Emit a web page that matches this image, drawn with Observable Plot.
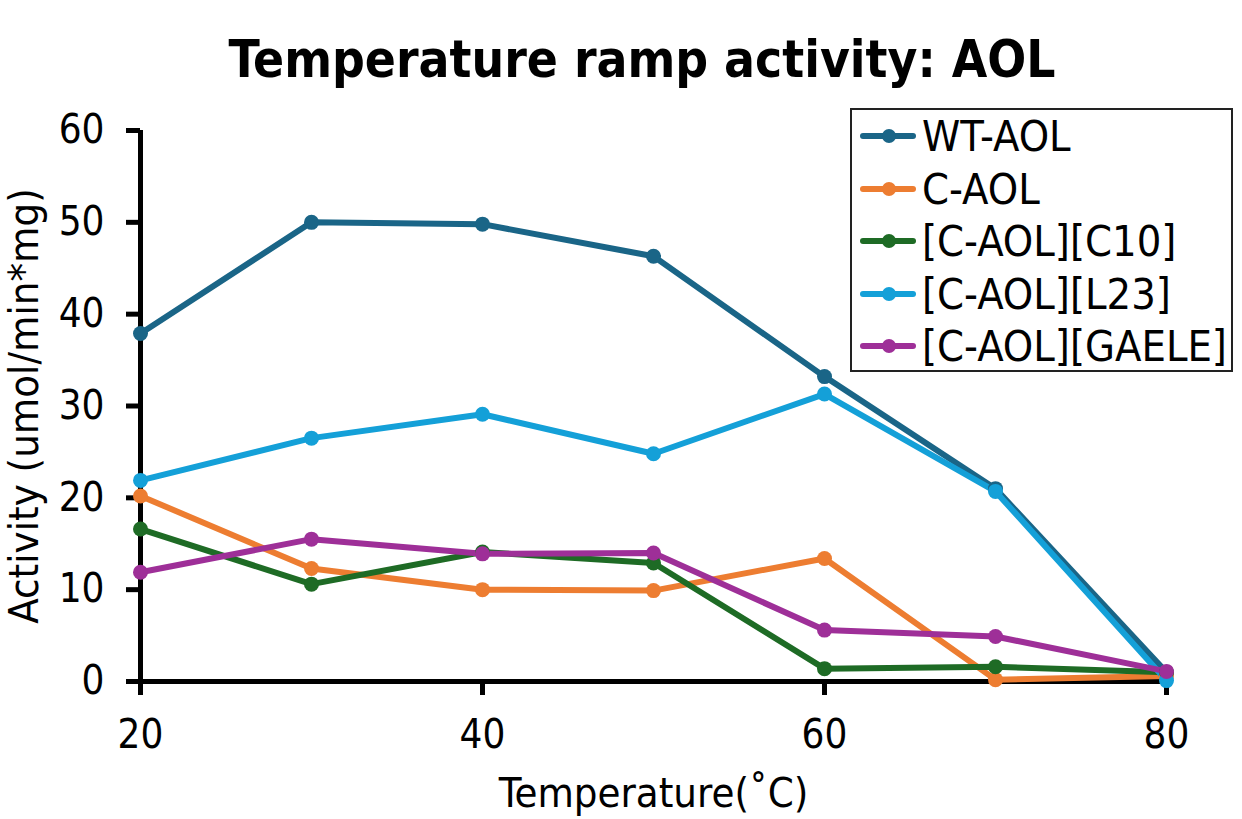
<!DOCTYPE html>
<html>
<head>
<meta charset="utf-8">
<script src="https://cdn.jsdelivr.net/npm/d3@7"></script>
<script src="https://cdn.jsdelivr.net/npm/@observablehq/plot@0.6"></script>
<style>
  html, body { margin: 0; padding: 0; background: #fff; }
  #wrap { position: relative; width: 1242px; height: 819px; overflow: hidden; font-family: "DejaVu Sans Condensed", "DejaVu Sans", sans-serif; font-stretch: condensed; }
  #title { position: absolute; left: 0; top: 30px; width: 1284px; text-align: center; font-family: "DejaVu Sans Condensed", "DejaVu Sans", sans-serif; font-stretch: condensed; font-weight: bold; font-size: 51px; color: #000; white-space: nowrap; }
  #legend { position: absolute; left: 850px; top: 108px; width: 379px; height: 260px; border: 2px solid #222; background: #fff; box-sizing: content-box; }
  .row { position: absolute; left: 6px; height: 50px; display: flex; align-items: center; font-size: 43px; color: #000; white-space: nowrap; }
  .row svg { margin-right: 4px; }
  #chart svg text { font-stretch: condensed; }
</style>
</head>
<body>
<div id="wrap">
  <div id="chart"></div>
  <div id="title">Temperature ramp activity: AOL</div>
  <div id="legend"></div>
</div>
<script>
const temps = [20, 30, 40, 50, 60, 70, 80];
const seriesNames = ["WT-AOL", "C-AOL", "[C-AOL][C10]", "[C-AOL][L23]", "[C-AOL][GAELE]"];
const seriesColors = ["#1a6587", "#ed7d31", "#1e6b25", "#14a0d8", "#9e2f98"];
const wtAOL = [37.9, 50.0, 49.8, 46.3, 33.2, 21.0, 1.0];
const cAOL = [20.2, 12.3, 10.0, 9.9, 13.4, 0.2, 0.6];
const cAOLC10 = [16.6, 10.6, 14.1, 12.9, 1.4, 1.6, 1.0];
const cAOLL23 = [21.9, 26.5, 29.1, 24.8, 31.3, 20.7, 0.1];
const cAOLGAELE = [11.9, 15.5, 13.9, 14.0, 5.6, 4.9, 1.1];
const xTicks = [20, 40, 60, 80];
const yTicks = [0, 10, 20, 30, 40, 50, 60];

const seriesValues = [wtAOL, cAOL, cAOLC10, cAOLL23, cAOLGAELE];
const rows = [];
seriesNames.forEach((name, i) => {
  temps.forEach((t, j) => rows.push({series: name, temp: t, value: seriesValues[i][j]}));
});

const font = "'DejaVu Sans Condensed', 'DejaVu Sans', sans-serif";
const chart = Plot.plot({
  width: 1242,
  height: 819,
  marginLeft: 140,
  marginRight: 76,
  marginTop: 130,
  marginBottom: 138,
  style: {fontFamily: font, fontSize: "40px", color: "#000", background: "#fff"},
  x: {domain: [20, 80]},
  y: {domain: [0, 60]},
  color: {domain: seriesNames, range: seriesColors},
  marks: [
    Plot.axisX({ticks: xTicks, tickSize: 14, tickPadding: 24, strokeWidth: 5, fontSize: 40,
      label: null}),
    Plot.axisX({ticks: [], label: "Temperature(˚C)", labelAnchor: "center", labelArrow: "none",
      labelOffset: 125, fontSize: 41.5}),
    Plot.axisY({ticks: yTicks, tickSize: 14, tickPadding: 22, strokeWidth: 5, fontSize: 40,
      label: null}),
    Plot.axisY({ticks: [], label: "Activity (umol/min*mg)", labelAnchor: "center", labelArrow: "none",
      labelOffset: 132, fontSize: 41.5}),
    Plot.ruleY([0], {stroke: "#000", strokeWidth: 5}),
    Plot.ruleX([20], {stroke: "#000", strokeWidth: 5}),
    Plot.line(rows, {x: "temp", y: "value", z: "series", stroke: "series", strokeWidth: 6, strokeLinejoin: "round"}),
    Plot.dot(rows, {x: "temp", y: "value", z: "series", fill: "series", r: 7.5})
  ]
});
document.getElementById("chart").appendChild(chart);

// Legend built from series arrays
const legend = document.getElementById("legend");
seriesNames.forEach((name, i) => {
  const row = document.createElement("div");
  row.className = "row";
  row.style.top = (1 + i * 52.5) + "px";
  row.innerHTML = `<svg width="60" height="20"><line x1="5" y1="10" x2="55" y2="10" stroke="${seriesColors[i]}" stroke-width="6" stroke-linecap="round"/><circle cx="31" cy="10" r="7" fill="${seriesColors[i]}"/></svg><span>${name}</span>`;
  legend.appendChild(row);
});
</script>
</body>
</html>
